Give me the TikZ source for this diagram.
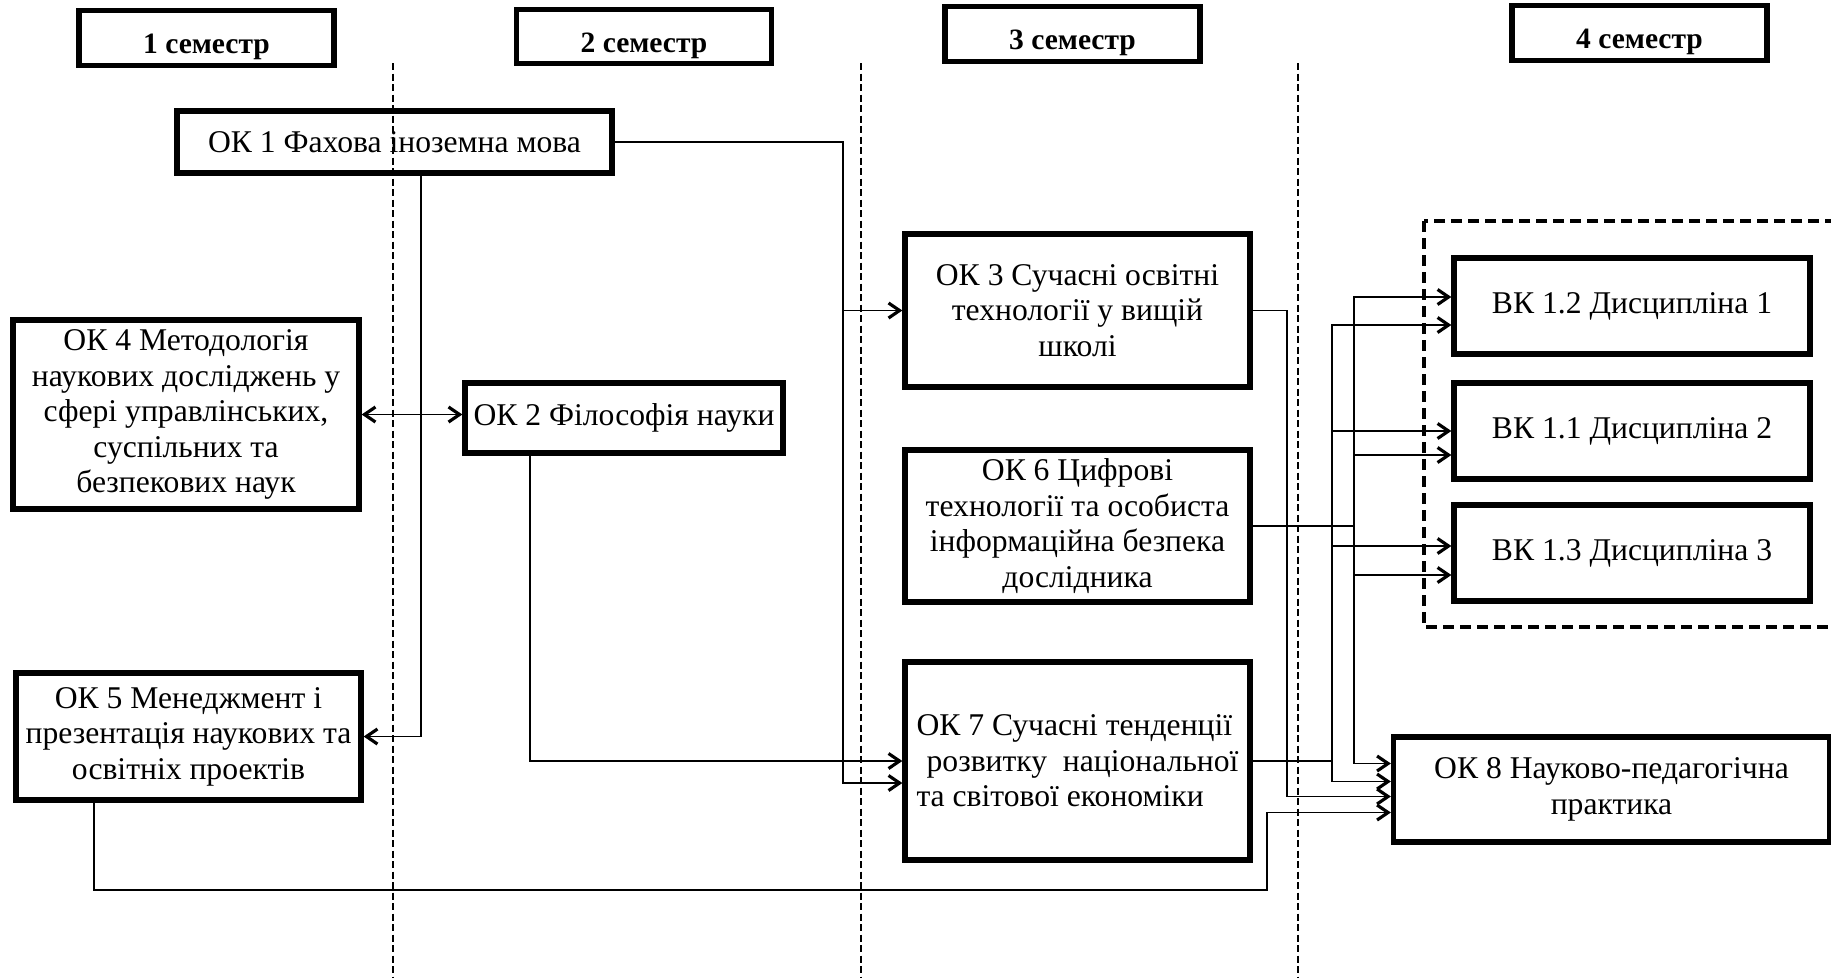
\documentclass[tikz,border=0pt]{standalone}
\usepackage{fontspec}
\setmainfont{Liberation Serif}
\usetikzlibrary{arrows.meta,calc}

\tikzset{
  every course/.style={draw, line width=1.5pt, align=center, inner sep=1pt,
    font=\fontsize{9}{10.1}\selectfont},
  every term/.style={draw, line width=1.5pt, minimum width=2.55cm,
    minimum height=0.52cm, text height=3.1mm, text depth=0pt,
    font=\fontsize{8.4}{10}\selectfont\bfseries},
  term line/.style={dash pattern=on 0.7mm off 0.35mm, line width=0.4pt},
  link/.style={line width=0.5pt},
}

\begin{document}
\begin{tikzpicture}[>={Straight Barb[length=1.1mm,width=1.5mm,line width=0.9pt]}]
  \useasboundingbox (0,0) rectangle (18.31,-9.78);

  \foreach \n/\x/\y in {1/2.065/-0.38, 2/6.44/-0.365, 3/10.725/-0.34, 4/16.395/-0.33}
    \node [every term/.try] (term-\n) at (\x,\y) {\n\ семестр};
  \foreach \x in {3.93, 8.61, 12.98}
    \draw [term line/.try] (\x,-0.63) -- (\x,-9.78);

  \node [every course/.try, minimum width=4.35cm, minimum height=0.62cm] (ok-1) at (3.945,-1.42) {ОК 1 Фахова іноземна мова};
  \node [every course/.try, minimum width=3.46cm, minimum height=1.89cm] (ok-4) at (1.86,-4.145) {ОК 4 Методологія\\наукових досліджень у\\сфері управлінських,\\суспільних та\\безпекових наук};
  \node [every course/.try, minimum width=3.18cm, minimum height=0.70cm] (ok-2) at (6.24,-4.18) {ОК 2 Філософія науки};
  \node [every course/.try, minimum width=3.45cm, minimum height=1.27cm] (ok-5) at (1.885,-7.365) {ОК 5 Менеджмент і\\презентація наукових та\\освітніх проектів};
  \node [every course/.try, minimum width=3.45cm, minimum height=1.53cm] (ok-3) at (10.775,-3.105) {ОК 3 Сучасні освітні\\технології у вищій\\школі};
  \node [every course/.try, minimum width=3.45cm, minimum height=1.52cm] (ok-6) at (10.775,-5.26) {ОК 6 Цифрові\\технології та особиста\\інформаційна безпека\\дослідника};
  \node [every course/.try, minimum width=3.45cm, minimum height=1.98cm, align=flush left, text width=3.22cm] (ok-7) at (10.775,-7.61) {ОК 7 Сучасні тенденції\\\hspace*{\fill}розвитку\ \ національної\\та світової економіки};
  \node [every course/.try, minimum width=4.36cm, minimum height=1.05cm] (ok-8) at (16.115,-7.895) {ОК 8 Науково-педагогічна\\практика};
  \foreach \n/\d/\y in {2/1/-3.06, 1/2/-4.31, 3/3/-5.53}
    \node [every course/.try, minimum width=3.56cm, minimum height=0.96cm] (vk-\n) at (16.32,\y) {ВК 1.\n\ Дисципліна \d};
  \draw [line width=1.4pt, dash pattern=on 1.1mm off 0.6mm] (14.24,-2.21) rectangle (18.7,-6.27);

  \draw [link, ->] (ok-1.east) -- ++(2.28,0) |- (ok-3.west);
  \draw [link, ->] (ok-1.east) -- ++(2.28,0) |- ([yshift=-2.2mm]ok-7.west);
  \draw [link, ->] ([xshift=2.65mm]ok-1.south) |- (ok-5.east);
  \draw [link, <->] (ok-4.east) -- (ok-4.east -| ok-2.west);
  \draw [link, ->] ([xshift=-9.4mm]ok-2.south) |- (ok-7.west);
  \coordinate (bend-5) at (12.67,-8.90);
  \draw [link, ->] ([xshift=-9.45mm]ok-5.south) |- (bend-5) |- ([yshift=-2.3mm]ok-8.west);
  \draw [link, ->] (ok-3.east) -- ++(0.34,0) |- ([yshift=-0.7mm]ok-8.west);

  \coordinate (bus-6) at (13.54,0);
  \coordinate (bus-7) at (13.32,0);
  \foreach \t/\s in {vk-2/0.9mm, vk-1/-2.4mm, vk-3/-2.2mm, ok-8/2.6mm}
    \draw [link, ->] (ok-6.east) -| ($(bus-6 |- \t.west)+(0,\s)$) -- ([yshift=\s]\t.west);
  \foreach \t/\s in {vk-2/-1.9mm, vk-1/0mm, vk-3/0.7mm, ok-8/0.8mm}
    \draw [link, ->] (ok-7.east) -| ($(bus-7 |- \t.west)+(0,\s)$) -- ([yshift=\s]\t.west);
\end{tikzpicture}
\end{document}
